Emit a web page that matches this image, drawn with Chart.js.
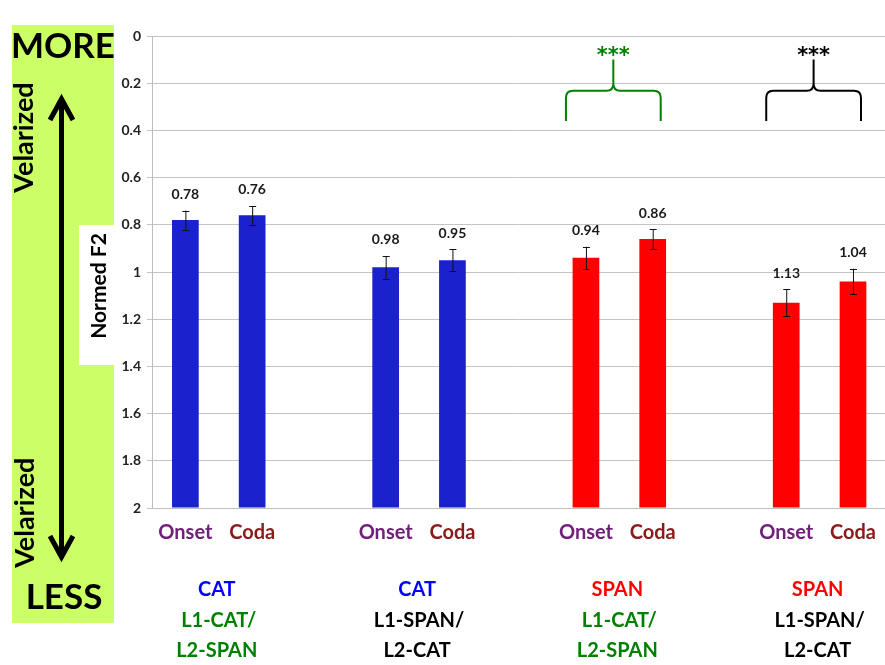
<!DOCTYPE html>
<html>
<head>
<meta charset="utf-8">
<script src="https://cdn.jsdelivr.net/npm/chart.js@4/dist/chart.umd.min.js"></script>
<style>
  html, body { margin: 0; padding: 0; overflow: hidden; background: #fff; }
  #wrap { position: absolute; left: 0; top: 0; width: 889px; height: 665px; }
</style>
</head>
<body>
<div id="wrap"><canvas id="c" width="889" height="665"></canvas></div>
<script>
// Bars: Onset / Coda per speaker group, with empty slots between groups
const categories = ['Onset', 'Coda', '', 'Onset', 'Coda', '', 'Onset', 'Coda', '', 'Onset', 'Coda'];
const normedF2   = [0.78, 0.76, null, 0.98, 0.95, null, 0.94, 0.86, null, 1.13, 1.04];
const errorSize  = [0.04, 0.04, null, 0.048, 0.047, null, 0.047, 0.042, null, 0.056, 0.054];
const barLanguage = ['CAT', 'CAT', null, 'CAT', 'CAT', null, 'SPAN', 'SPAN', null, 'SPAN', 'SPAN'];
const yTicks = [0, 0.2, 0.4, 0.6, 0.8, 1, 1.2, 1.4, 1.6, 1.8, 2];

// Group captions under the axis (language, then speaker group on two lines)
const groupPairs     = [[0, 1], [3, 4], [6, 7], [9, 10]];
const groupLanguage  = ['CAT', 'CAT', 'SPAN', 'SPAN'];
const groupSpeakers  = [['L1-CAT/', 'L2-SPAN'], ['L1-SPAN/', 'L2-CAT'], ['L1-CAT/', 'L2-SPAN'], ['L1-SPAN/', 'L2-CAT']];
const groupIsL1Cat   = [true, false, true, false];

// Significance brackets between Onset and Coda
const significance = [
  { pair: [6, 7], label: '***', green: true },
  { pair: [9, 10], label: '***', green: false }
];

const FONT = 'Lato, "Open Sans", sans-serif';
const BLUE = 'rgb(27,33,205)';
const RED = 'rgb(255,0,0)';
const GREEN = 'rgb(0,128,0)';
const ONSET_COLOR = 'rgb(112,32,122)';
const CODA_COLOR = 'rgb(139,26,26)';

const decorPlugin = {
  id: 'decor',
  beforeDraw(chart) {
    const ctx = chart.ctx;
    ctx.save();
    // green side panel
    ctx.fillStyle = 'rgb(204,255,102)';
    ctx.fillRect(12, 25, 102, 598);
    // white box behind axis title
    ctx.fillStyle = '#ffffff';
    ctx.fillRect(79, 225, 36, 140);

    ctx.fillStyle = '#000';
    ctx.textAlign = 'center';
    ctx.textBaseline = 'alphabetic';
    ctx.font = 'bold 35px ' + FONT;
    ctx.fillText('MORE', 63, 58);
    ctx.fillText('LESS', 64, 609);

    // rotated "Velarized" labels
    ctx.font = 'bold 27px ' + FONT;
    [[33, 137.5], [34, 512.7]].forEach(([x, y]) => {
      ctx.save();
      ctx.translate(x, y);
      ctx.rotate(-Math.PI / 2);
      ctx.fillText('Velarized', 0, 0);
      ctx.restore();
    });

    // axis title
    ctx.font = 'bold 21px ' + FONT;
    ctx.save();
    ctx.translate(106, 286);
    ctx.rotate(-Math.PI / 2);
    ctx.fillText('Normed F2', 0, 0);
    ctx.restore();

    // double-headed arrow
    ctx.strokeStyle = '#000';
    ctx.lineWidth = 5;
    ctx.lineCap = 'butt';
    ctx.lineJoin = 'miter';
    ctx.beginPath();
    ctx.moveTo(61.5, 100);
    ctx.lineTo(61.5, 556);
    ctx.stroke();
    ctx.beginPath();
    ctx.moveTo(50, 120);
    ctx.lineTo(61.5, 99);
    ctx.lineTo(73, 120);
    ctx.stroke();
    ctx.beginPath();
    ctx.moveTo(50, 536);
    ctx.lineTo(61.5, 557);
    ctx.lineTo(73, 536);
    ctx.stroke();
    ctx.restore();
  },
  afterDatasetsDraw(chart) {
    const ctx = chart.ctx;
    const xs = chart.scales.x;
    const ys = chart.scales.y;
    ctx.save();

    // error bars and value labels
    normedF2.forEach((v, i) => {
      if (v === null) return;
      const x = xs.getPixelForValue(i);
      const e = errorSize[i];
      const yTop = ys.getPixelForValue(v - e);
      const yBot = ys.getPixelForValue(v + e);
      ctx.strokeStyle = '#111';
      ctx.lineWidth = 1;
      ctx.beginPath();
      ctx.moveTo(x + 0.5, yTop);
      ctx.lineTo(x + 0.5, yBot);
      ctx.moveTo(x - 3, Math.round(yTop) + 0.5);
      ctx.lineTo(x + 4, Math.round(yTop) + 0.5);
      ctx.moveTo(x - 3, Math.round(yBot) + 0.5);
      ctx.lineTo(x + 4, Math.round(yBot) + 0.5);
      ctx.stroke();

      ctx.fillStyle = '#1a1a1a';
      ctx.font = 'bold 14px ' + FONT;
      ctx.textAlign = 'center';
      ctx.textBaseline = 'middle';
      ctx.fillText(v.toFixed(2), x, yTop - 16);
    });

    // significance brackets
    significance.forEach(s => {
      const color = s.green ? GREEN : '#000';
      const x1 = xs.getPixelForValue(s.pair[0]) - 20;
      const x2 = xs.getPixelForValue(s.pair[1]) + 8;
      const xc = (x1 + x2) / 2;
      const yH = ys.getPixelForValue(0.232);
      const yEnd = ys.getPixelForValue(0.36);
      const yTip = ys.getPixelForValue(0.10);
      const r = 7;
      ctx.strokeStyle = color;
      ctx.lineWidth = 2;
      ctx.beginPath();
      ctx.moveTo(x1, yEnd);
      ctx.lineTo(x1, yH + r);
      ctx.quadraticCurveTo(x1, yH, x1 + r, yH);
      ctx.lineTo(xc - r, yH);
      ctx.quadraticCurveTo(xc, yH, xc, yH - r);
      ctx.lineTo(xc, yTip);
      ctx.moveTo(xc, yH - r);
      ctx.quadraticCurveTo(xc, yH, xc + r, yH);
      ctx.lineTo(x2 - r, yH);
      ctx.quadraticCurveTo(x2, yH, x2, yH + r);
      ctx.lineTo(x2, yEnd);
      ctx.stroke();

      ctx.fillStyle = color;
      ctx.font = 'bold 21px "DejaVu Sans", sans-serif';
      ctx.textAlign = 'center';
      ctx.textBaseline = 'alphabetic';
      ctx.fillText(s.label, xc, 62);
    });

    // group captions
    groupPairs.forEach((p, g) => {
      const xc = (xs.getPixelForValue(p[0]) + xs.getPixelForValue(p[1])) / 2;
      ctx.textAlign = 'center';
      ctx.textBaseline = 'middle';
      ctx.font = 'bold 20px ' + FONT;
      ctx.fillStyle = groupLanguage[g] === 'CAT' ? 'rgb(0,0,255)' : RED;
      ctx.fillText(groupLanguage[g], xc - 2, 590);
      ctx.fillStyle = groupIsL1Cat[g] ? GREEN : '#000';
      ctx.fillText(groupSpeakers[g][0], xc, 621);
      ctx.fillText(groupSpeakers[g][1], xc - 2, 651);
    });
    ctx.restore();
  }
};

new Chart(document.getElementById('c'), {
  type: 'bar',
  data: {
    labels: categories,
    datasets: [{
      data: normedF2,
      base: 2,
      backgroundColor: barLanguage.map(l => l === 'SPAN' ? RED : BLUE),
      borderWidth: 0,
      barPercentage: 0.4,
      categoryPercentage: 1.0
    }]
  },
  options: {
    responsive: false,
    animation: false,
    events: [],
    layout: { padding: { left: 0, right: 0, top: 36, bottom: 0 } },
    plugins: { legend: { display: false }, tooltip: { enabled: false } },
    scales: {
      x: {
        offset: true,
        grid: { display: false, drawTicks: false },
        border: { display: true, color: '#bdbdbd', width: 1 },
        ticks: {
          padding: 13,
          maxRotation: 0,
          autoSkip: false,
          font: { family: FONT, size: 20, weight: 'bold' },
          color: ctx => categories[ctx.index] === 'Onset' ? ONSET_COLOR : CODA_COLOR
        },
        afterFit: s => { s.height = 157; }
      },
      y: {
        reverse: true,
        min: 0,
        max: 2,
        afterBuildTicks: s => { s.ticks = yTicks.map(v => ({ value: v })); },
        grid: { color: '#c4c4c4', lineWidth: 1, tickLength: 5 },
        border: { display: true, color: '#bdbdbd', width: 1 },
        ticks: {
          padding: 6,
          font: { family: FONT, size: 14, weight: 'bold' },
          color: '#222',
          callback: v => String(Math.round(v * 10) / 10)
        },
        afterFit: s => { s.width = 152; }
      }
    }
  },
  plugins: [decorPlugin]
});
</script>
</body>
</html>
